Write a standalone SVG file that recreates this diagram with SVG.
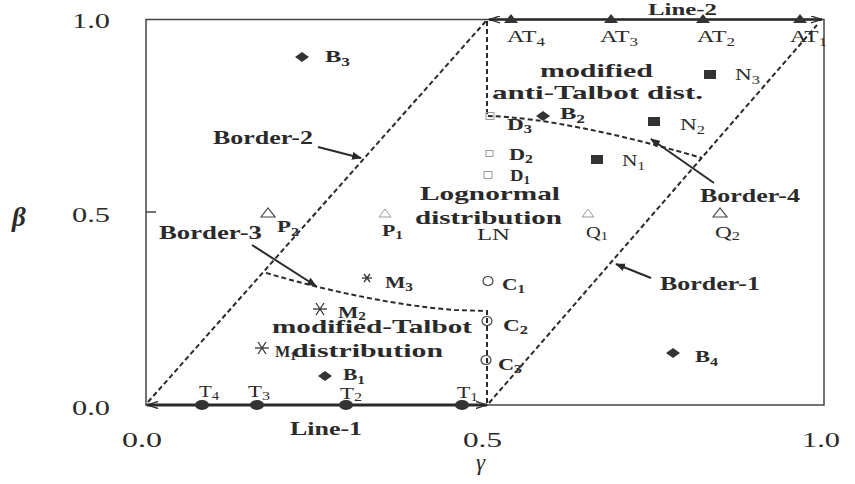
<svg xmlns="http://www.w3.org/2000/svg" width="855" height="484" viewBox="0 0 855 484">
<style>
text{font-family:"Liberation Serif","Times New Roman",serif;fill:#2a2a2a}
.b{font-weight:bold;font-size:19px}
.lab{font-size:17px}
.lb{font-size:17px;font-weight:bold}
.num{font-size:21px}
.dash{fill:none;stroke:#2a2a2a;stroke-width:2;stroke-dasharray:5 3}
.arr{fill:none;stroke:#2a2a2a;stroke-width:2}
.fill{fill:#333;stroke:none}
.open{fill:none;stroke:#444;stroke-width:1.2}
.light{fill:none;stroke:#999;stroke-width:1}
.ast{stroke:#333;stroke-width:1.3}
</style>
<defs>
<marker id="ah" markerWidth="10" markerHeight="8" refX="9" refY="4" orient="auto" markerUnits="userSpaceOnUse">
<path d="M0,0 L10,4 L0,8 Z" fill="#2a2a2a"/>
</marker>
<marker id="ch" markerWidth="12" markerHeight="8" refX="11" refY="4" orient="auto-start-reverse" markerUnits="userSpaceOnUse">
<path d="M0,0.5 L11,4 L0,7.5" fill="none" stroke="#2a2a2a" stroke-width="1.3"/>
</marker>
</defs>
<rect width="855" height="484" fill="#fff"/>

<g id="axes">
<rect x="146" y="19.5" width="678" height="385.5" fill="none" stroke="#444" stroke-width="1.5"/>
<line x1="146" y1="212" x2="156" y2="212" stroke="#444" stroke-width="1.5"/>
<text class="num" x="72" y="28" textLength="38" lengthAdjust="spacingAndGlyphs">1.0</text>
<text class="num" x="72" y="222" textLength="38" lengthAdjust="spacingAndGlyphs">0.5</text>
<text class="num" x="72" y="415" textLength="38" lengthAdjust="spacingAndGlyphs">0.0</text>
<text x="12" y="226" font-size="27" font-style="italic" font-weight="bold">β</text>
<text class="num" x="122" y="447" textLength="40" lengthAdjust="spacingAndGlyphs">0.0</text>
<text class="num" x="463" y="447" textLength="39" lengthAdjust="spacingAndGlyphs">0.5</text>
<text class="num" x="802" y="447" textLength="38" lengthAdjust="spacingAndGlyphs">1.0</text>
<text x="476" y="470" font-size="23" font-style="italic">γ</text>
</g>

<g id="connectors">
<line x1="487" y1="405" x2="147" y2="405" stroke="#2a2a2a" stroke-width="3" marker-start="url(#ch)" marker-end="url(#ch)"/>
<line x1="489" y1="19.5" x2="822" y2="19.5" stroke="#2a2a2a" stroke-width="2.5" marker-start="url(#ch)" marker-end="url(#ch)"/>
<line class="dash" x1="148" y1="402" x2="486" y2="21"/>
<line class="dash" x1="489" y1="403" x2="817" y2="25"/>
<path class="dash" d="M487,21 L487,116 C540,117 620,134 702,158"/>
<path class="dash" d="M487,403 L487,311 L455,310 C400,306 330,292 263,272"/>
<line class="arr" x1="318" y1="147" x2="361" y2="158" marker-end="url(#ah)"/>
<line class="arr" x1="252" y1="245" x2="316" y2="286" marker-end="url(#ah)"/>
<line class="arr" x1="714" y1="183" x2="651" y2="139" marker-end="url(#ah)"/>
<line class="arr" x1="651" y1="278" x2="616" y2="264" marker-end="url(#ah)"/>
</g>

<g id="region-labels">
<text class="b" x="648" y="15" style="font-size:16px" textLength="69" lengthAdjust="spacingAndGlyphs">Line-2</text>
<text class="b" x="290" y="435" textLength="72" lengthAdjust="spacingAndGlyphs">Line-1</text>
<text class="b" x="213" y="144" textLength="100" lengthAdjust="spacingAndGlyphs">Border-2</text>
<text class="b" x="159" y="239" textLength="103" lengthAdjust="spacingAndGlyphs">Border-3</text>
<text class="b" x="700" y="202" textLength="100" lengthAdjust="spacingAndGlyphs">Border-4</text>
<text class="b" x="660" y="290" textLength="100" lengthAdjust="spacingAndGlyphs">Border-1</text>
<text class="b" x="540" y="77" textLength="113" lengthAdjust="spacingAndGlyphs">modified</text>
<text class="b" x="492" y="99" textLength="211" lengthAdjust="spacingAndGlyphs">anti-Talbot dist.</text>
<text class="b" x="420" y="200" textLength="140" lengthAdjust="spacingAndGlyphs">Lognormal</text>
<text class="b" x="415" y="224" textLength="147" lengthAdjust="spacingAndGlyphs">distribution</text>
<text class="lab" x="477" y="240" textLength="33" lengthAdjust="spacingAndGlyphs">LN</text>
<text class="b" x="272" y="333" textLength="200" lengthAdjust="spacingAndGlyphs">modified-Talbot</text>
<text class="b" x="292" y="357" textLength="151" lengthAdjust="spacingAndGlyphs">distribution</text>
</g>

<g id="B">
<path class="fill" d="M295,57 L302,52 L309,57 L302,62 Z"/>
<text class="lb" x="325" y="62" textLength="25" lengthAdjust="spacingAndGlyphs">B<tspan font-size="12" dy="4">3</tspan></text>
<path class="fill" d="M536,116 L543,111 L550,116 L543,121 Z"/>
<text class="lb" x="560" y="119" textLength="25" lengthAdjust="spacingAndGlyphs">B<tspan font-size="12" dy="4">2</tspan></text>
<path class="fill" d="M318,376 L325,371 L332,376 L325,381 Z"/>
<text class="lb" x="343" y="380" textLength="22" lengthAdjust="spacingAndGlyphs">B<tspan font-size="12" dy="4">1</tspan></text>
<path class="fill" d="M666,353 L673,348 L680,353 L673,358 Z"/>
<text class="lb" x="695" y="362" textLength="23" lengthAdjust="spacingAndGlyphs">B<tspan font-size="12" dy="4">4</tspan></text>
</g>

<g id="N">
<rect class="fill" x="591" y="155" width="12" height="9"/>
<text class="lab" x="622" y="166" textLength="23" lengthAdjust="spacingAndGlyphs">N<tspan font-size="12" dy="4">1</tspan></text>
<rect class="fill" x="648" y="117" width="12" height="9"/>
<text class="lab" x="680" y="130" textLength="25" lengthAdjust="spacingAndGlyphs">N<tspan font-size="12" dy="4">2</tspan></text>
<rect class="fill" x="704" y="70" width="12" height="9"/>
<text class="lab" x="735" y="80" textLength="25" lengthAdjust="spacingAndGlyphs">N<tspan font-size="12" dy="4">3</tspan></text>
</g>

<g id="AT">
<path class="fill" d="M504,23 L511,14 L518,23 Z"/>
<text class="lab" x="507" y="42" textLength="38" lengthAdjust="spacingAndGlyphs">AT<tspan font-size="12" dy="4">4</tspan></text>
<path class="fill" d="M604,23 L611,14 L618,23 Z"/>
<text class="lab" x="600" y="42" textLength="38" lengthAdjust="spacingAndGlyphs">AT<tspan font-size="12" dy="4">3</tspan></text>
<path class="fill" d="M696,23 L703,14 L710,23 Z"/>
<text class="lab" x="697" y="42" textLength="38" lengthAdjust="spacingAndGlyphs">AT<tspan font-size="12" dy="4">2</tspan></text>
<path class="fill" d="M793,23 L800,14 L807,23 Z"/>
<text class="lab" x="790" y="42" textLength="37" lengthAdjust="spacingAndGlyphs">AT<tspan font-size="12" dy="4">1</tspan></text>
</g>

<g id="T">
<ellipse class="fill" cx="202" cy="405" rx="7" ry="5"/>
<text class="lab" x="199" y="397" textLength="20" lengthAdjust="spacingAndGlyphs">T<tspan font-size="12" dy="3">4</tspan></text>
<ellipse class="fill" cx="257" cy="405" rx="7" ry="5"/>
<text class="lab" x="248" y="397" textLength="22" lengthAdjust="spacingAndGlyphs">T<tspan font-size="12" dy="3">3</tspan></text>
<ellipse class="fill" cx="346" cy="405" rx="7" ry="5"/>
<text class="lab" x="340" y="399" textLength="22" lengthAdjust="spacingAndGlyphs">T<tspan font-size="12" dy="2">2</tspan></text>
<ellipse class="fill" cx="462" cy="405" rx="7" ry="5"/>
<text class="lab" x="457" y="398" textLength="21" lengthAdjust="spacingAndGlyphs">T<tspan font-size="12" dy="3">1</tspan></text>
</g>

<g id="P">
<path class="open" d="M261,217 L268,208 L275,217 Z"/>
<text class="lb" x="277" y="232" textLength="22" lengthAdjust="spacingAndGlyphs">P<tspan font-size="12" dy="4">2</tspan></text>
<path class="light" d="M379,217 L385,209 L391,217 Z"/>
<text class="lb" x="382" y="236" textLength="21" lengthAdjust="spacingAndGlyphs">P<tspan font-size="12" dy="3">1</tspan></text>
</g>

<g id="Q">
<path class="light" d="M582,217 L588,209 L594,217 Z"/>
<text class="lab" x="586" y="238" textLength="22" lengthAdjust="spacingAndGlyphs">Q<tspan font-size="12" dy="2">1</tspan></text>
<path class="open" d="M713,217 L720,208 L727,217 Z"/>
<text class="lab" x="715" y="238" textLength="25" lengthAdjust="spacingAndGlyphs">Q<tspan font-size="12" dy="2">2</tspan></text>
</g>

<g id="D">
<rect class="light" x="486" y="112.5" width="8" height="7"/>
<text class="lb" x="507" y="130" textLength="25" lengthAdjust="spacingAndGlyphs">D<tspan font-size="12" dy="3">3</tspan></text>
<rect class="light" x="486" y="150.5" width="7" height="6"/>
<text class="lb" x="509" y="160" textLength="24" lengthAdjust="spacingAndGlyphs">D<tspan font-size="12" dy="3">2</tspan></text>
<rect class="light" x="484" y="171.5" width="8" height="7"/>
<text class="lb" x="510" y="181" textLength="20" lengthAdjust="spacingAndGlyphs">D<tspan font-size="12" dy="3">1</tspan></text>
</g>

<g id="C">
<ellipse class="open" cx="488" cy="281" rx="5" ry="4.5"/>
<text class="lb" x="502" y="290" textLength="23" lengthAdjust="spacingAndGlyphs">C<tspan font-size="12" dy="3">1</tspan></text>
<ellipse class="open" cx="487" cy="321" rx="5" ry="4.5"/>
<text class="lb" x="503" y="331" textLength="25" lengthAdjust="spacingAndGlyphs">C<tspan font-size="12" dy="3">2</tspan></text>
<ellipse class="open" cx="486" cy="360" rx="5" ry="4.5"/>
<text class="lb" x="498" y="370" textLength="24" lengthAdjust="spacingAndGlyphs">C<tspan font-size="12" dy="3">3</tspan></text>
</g>

<g id="M">
<g class="ast"><line x1="255" y1="348" x2="269" y2="348"/><line x1="258" y1="342" x2="266" y2="354"/><line x1="266" y1="342" x2="258" y2="354"/></g>
<text class="lb" x="275" y="357" textLength="21" lengthAdjust="spacingAndGlyphs">M<tspan font-size="12" dy="3">1</tspan></text>
<g class="ast"><line x1="313" y1="309" x2="327" y2="309"/><line x1="316" y1="303" x2="324" y2="315"/><line x1="324" y1="303" x2="316" y2="315"/></g>
<text class="lb" x="338" y="318" textLength="28" lengthAdjust="spacingAndGlyphs">M<tspan font-size="12" dy="2">2</tspan></text>
<g class="ast" stroke-width="1"><line x1="362" y1="278" x2="372" y2="278"/><line x1="364" y1="274" x2="370" y2="282"/><line x1="370" y1="274" x2="364" y2="282"/></g>
<text class="lb" x="385" y="288" textLength="28" lengthAdjust="spacingAndGlyphs">M<tspan font-size="12" dy="3">3</tspan></text>
</g>
</svg>
